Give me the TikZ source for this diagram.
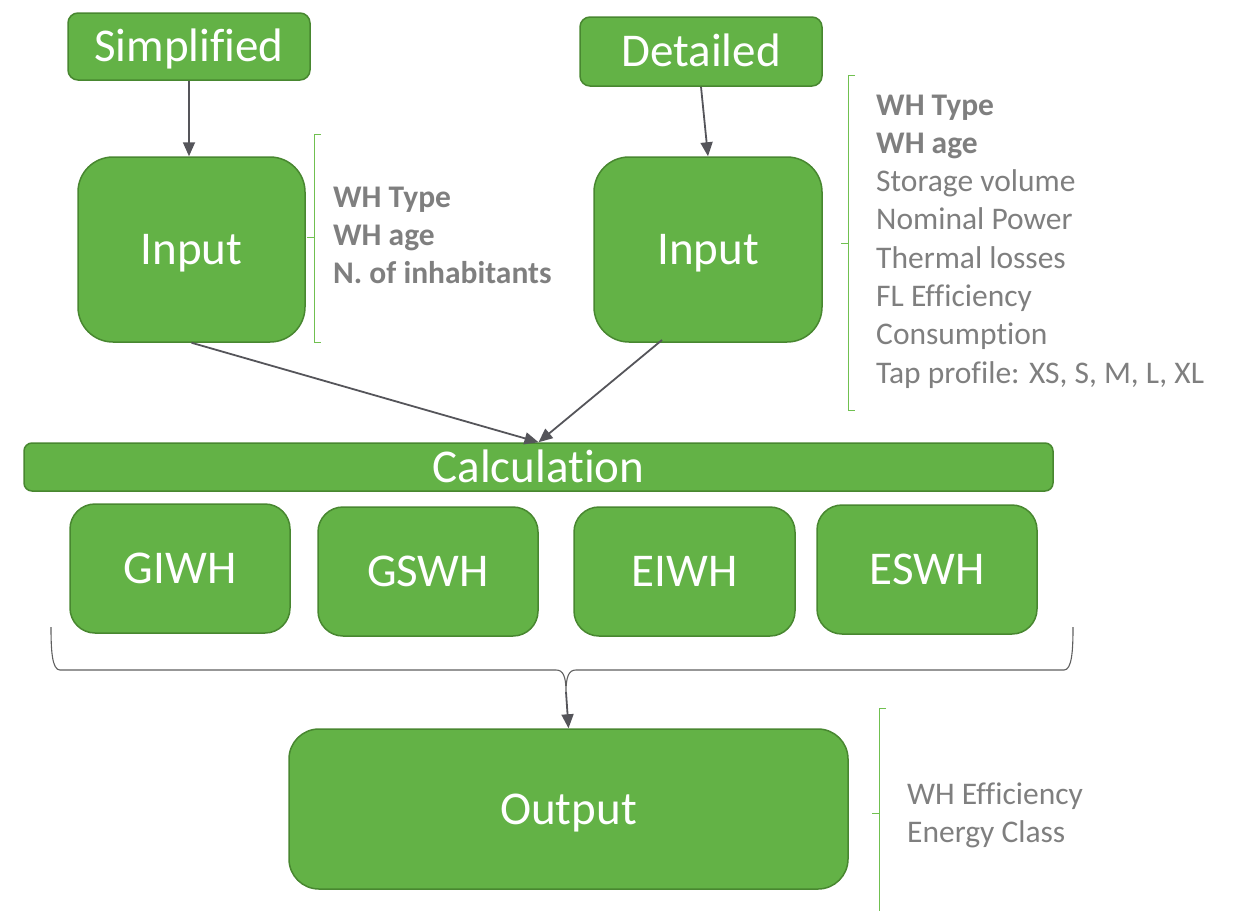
\documentclass[tikz,border=0pt]{standalone}
\usepackage{fontspec}
\setmainfont[Ligatures=NoCommon]{Carlito}
\usetikzlibrary{arrows.meta,calc}
\definecolor{boxgreen}{RGB}{99,178,70}
\definecolor{boxedge}{RGB}{72,135,48}
\definecolor{brkgreen}{RGB}{112,192,80}
\definecolor{txtgray}{RGB}{127,127,127}
\definecolor{arrgray}{RGB}{85,85,90}
\definecolor{bracegray}{RGB}{95,95,95}
\begin{document}
\begin{tikzpicture}[x=1pt,y=-1pt,
  gbox/.style={draw=boxedge,fill=boxgreen,line width=1.5pt,text=white,
    font=\fontsize{47}{56}\selectfont,inner sep=0pt,text height=30pt,text depth=0pt},
  side/.style={text=txtgray,font=\fontsize{31.5}{38}\selectfont,inner sep=0pt,anchor=base west},
  sideb/.style={side,font=\fontsize{31.5}{38}\selectfont\bfseries},
  arr/.style={draw=arrgray,line width=1.8pt,-{Triangle[length=14pt,width=12pt]}},
  brk/.style={draw=brkgreen,line width=1pt},
  bracepath/.style={draw=bracegray,line width=1.1pt}
]
\useasboundingbox (0,0) rectangle (1233,911);

% top boxes
\node[gbox,rounded corners=10pt,minimum width=242pt,minimum height=67pt] (sim) at (189,46.5) {Simplified};
\node[gbox,rounded corners=10pt,minimum width=242pt,minimum height=69pt] (det) at (701,51.5) {Detailed};

% input boxes
\node[gbox,rounded corners=35pt,minimum width=227pt,minimum height=185pt] (in1) at (191.5,249.5) {Input};
\node[gbox,rounded corners=35pt,minimum width=228pt,minimum height=185pt] (in2) at (708,249.5) {Input};

% calculation bar
\node[gbox,rounded corners=8pt,minimum width=1029pt,minimum height=48pt] (calc) at (538.5,467) {Calculation};

% type boxes
\node[gbox,rounded corners=25pt,minimum width=220pt,minimum height=129pt] (giwh) at (180,568.5) {GIWH};
\node[gbox,rounded corners=25pt,minimum width=220pt,minimum height=129pt] (gswh) at (428,571.5) {GSWH};
\node[gbox,rounded corners=25pt,minimum width=221pt,minimum height=129pt] (eiwh) at (684.5,571.5) {EIWH};
\node[gbox,rounded corners=25pt,minimum width=220pt,minimum height=129pt] (eswh) at (927,569.5) {ESWH};

% output box
\node[gbox,rounded corners=30pt,minimum width=559pt,minimum height=160pt] (out) at (568.5,809) {Output};

% arrows
\draw[arr] (sim.south) -- (sim.south |- in1.north);
\draw[arr] (det.south) -- (in2.north);
\coordinate (in2s) at (662,340);
\draw[arr] (in1.south) -- (calc.north);
\draw[arr] (in2s) -- (calc.north);

% brace under type boxes
\coordinate (cusp) at (566,692);
\draw[bracepath] (51,627) .. controls (51,650) and (52,670) .. (60,670) -- (556,670)
  .. controls (563,670) and (566,676) .. (cusp)
  .. controls (566,676) and (569,670) .. (576,670) -- (1064,670)
  .. controls (1072,670) and (1073,650) .. (1073,627);
\draw[arr] (cusp) -- (out.north);

% left bracket
\draw[brk] (321,134) -- (314,134) -- (314,342) -- (321,342);
\draw[brk] (307,237) -- (314,237);
\node[sideb] (l1) at (333,207) {WH Type};
\node[sideb] (l2) at (333,245) {WH age};
\node[sideb] (l3) at (333,283) {N. of inhabitants};

% right bracket
\draw[brk] (855,75) -- (848,75) -- (848,410) -- (855,410);
\draw[brk] (841,243) -- (848,243);
\node[sideb] (r1) at (876,115) {WH Type};
\node[sideb] (r2) at (876,153.3) {WH age};
\node[side] (r3) at (876,191.6) {Storage volume};
\node[side] (r4) at (876,229.9) {Nominal Power};
\node[side] (r5) at (876,268.2) {Thermal losses};
\node[side] (r6) at (876,306.5) {FL Efficiency};
\node[side] (r7) at (876,344.8) {Consumption};
\node[side] (r8) at (876,383.1) {Tap profile: XS, S, M, L, XL};

% output bracket
\draw[brk] (886,708) -- (879,708) -- (879,911);
\draw[brk] (872,813) -- (879,813);
\node[side] (o1) at (907,804) {WH Efficiency};
\node[side] (o2) at (907,842) {Energy Class};
\end{tikzpicture}
\end{document}
